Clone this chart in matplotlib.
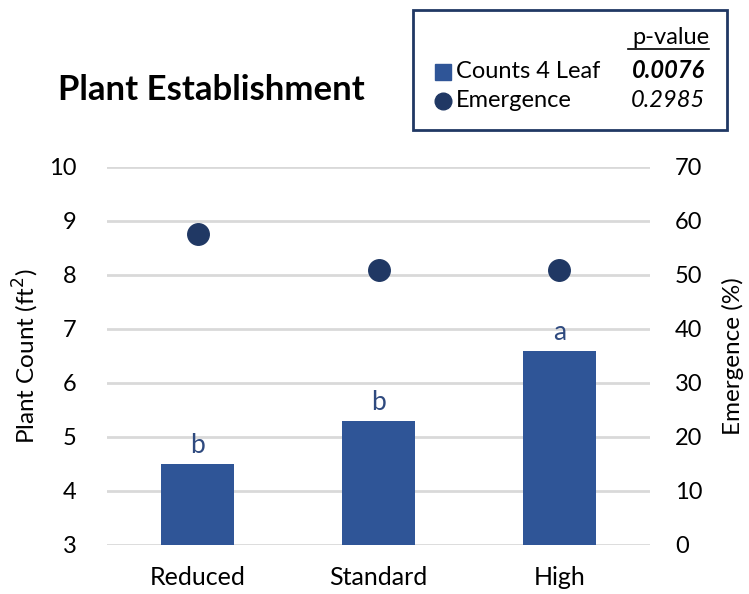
import matplotlib.pyplot as plt
from matplotlib.patches import Rectangle
from matplotlib.lines import Line2D

plt.rcParams['font.family'] = ['Lato', 'DejaVu Sans']

treatments = ['Reduced', 'Standard', 'High']
counts = [4.5, 5.3, 6.6]
letters = ['b', 'b', 'a']
emergence = [57.6, 50.9, 50.9]
pvals = ['0.0076', '0.2985']

bar_col = '#2F5597'
dot_col = '#203864'
grid_col = '#D9D9D9'

fig = plt.figure(figsize=(7.49, 5.94), dpi=100)
ax = fig.add_axes([0.1429, 0.0825, 0.7249, 0.6364])
ax2 = ax.twinx()

x = range(len(treatments))
ax.bar(x, counts, width=0.4, color=bar_col, bottom=0, zorder=2)
for i, (c, l) in enumerate(zip(counts, letters)):
    ax.annotate(l, (i, c), xytext=(0, 4), textcoords='offset points',
                ha='center', va='bottom', fontsize=19, color='#2F4A7F')
ax2.scatter(x, emergence, s=240, color=dot_col, zorder=3)

ax.set_ylim(3, 10)
ax.set_xlim(-0.5, 2.5)
ax2.set_ylim(0, 70)
ax.set_yticks(range(3, 11))
ax2.set_yticks(range(0, 71, 10))
ax.set_xticks(list(x))
ax.set_xticklabels(treatments)
ax.yaxis.grid(True, color=grid_col, lw=2, zorder=0)
ax.set_axisbelow(True)
for a in (ax, ax2):
    for s in a.spines.values():
        s.set_visible(False)
    a.tick_params(length=0, labelsize=17)
ax.tick_params(axis='y', pad=22)
ax.tick_params(axis='x', pad=15, labelsize=18)
ax2.tick_params(axis='y', pad=18)
ax.set_ylabel('Plant Count (ft$^2$)', fontsize=17.5, labelpad=6)
ax2.set_ylabel('Emergence (%)', fontsize=17.5, labelpad=14)

fig.text(58/749, 1 - 100/594, 'Plant Establishment', fontsize=25,
         fontweight='bold', va='baseline', ha='left')

# legend box
fig.patches.append(Rectangle((413/749, 1 - 130/594), 314/749, 120/594,
                             transform=fig.transFigure, fill=False,
                             edgecolor=dot_col, lw=2))
fig.text(709/749, 1 - 38/594, 'p-value', fontsize=17, ha='right', va='center')
fig.lines.append(Line2D([628/749, 709/749], [1 - 49/594, 1 - 49/594],
                        transform=fig.transFigure, color='black', lw=1.2))
fig.lines.append(Line2D([443/749], [1 - 72/594], transform=fig.transFigure,
                        marker='s', ms=11, color=bar_col, lw=0))
fig.lines.append(Line2D([443/749], [1 - 101/594], transform=fig.transFigure,
                        marker='o', ms=12, color=dot_col, lw=0))
fig.text(456/749, 1 - 72/594, 'Counts 4 Leaf', fontsize=17, va='center')
fig.text(456/749, 1 - 101/594, 'Emergence', fontsize=17, va='center')
fig.text(705/749, 1 - 70/594, pvals[0], fontsize=17, ha='right', va='center',
         fontweight='bold', style='italic')
fig.text(705/749, 1 - 101/594, pvals[1], fontsize=17, ha='right', va='center',
         style='italic')

fig.savefig('out.png', dpi=100)
